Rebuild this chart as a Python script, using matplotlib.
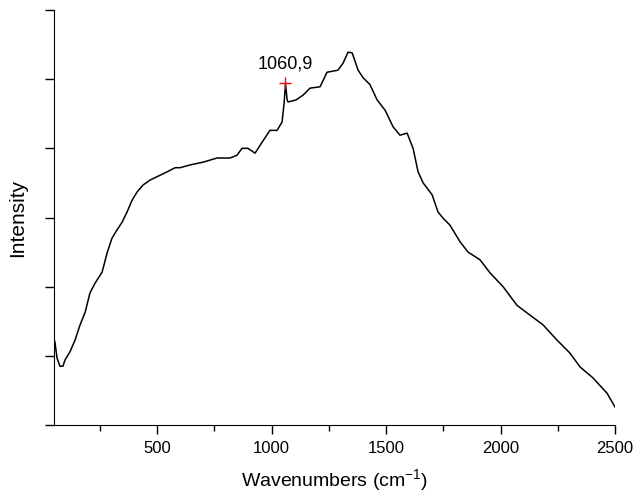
import matplotlib.pyplot as plt

plt.rcParams['font.family'] = ['Liberation Sans', 'DejaVu Sans']

# spectrum (wavenumber, intensity in arbitrary units)
wavenumber = [50, 54, 63, 76, 89, 98, 120, 142, 164, 186, 207, 229, 260, 282,
              303, 325, 347, 369, 391, 413, 439, 469, 500, 544, 579, 601, 644,
              701, 762, 819, 849, 871, 897, 928, 959, 993, 1024, 1046, 1055,
              1061, 1068, 1072, 1107, 1138, 1168, 1212, 1242, 1290, 1312, 1334,
              1352, 1378, 1400, 1430, 1461, 1496, 1531, 1561, 1592, 1618, 1640,
              1662, 1701, 1727, 1749, 1779, 1823, 1858, 1910, 1954, 2011, 2072,
              2128, 2185, 2246, 2303, 2347, 2404, 2465, 2500]
intensity = [1.23, 1.20, 0.97, 0.85, 0.85, 0.94, 1.06, 1.23, 1.45, 1.63, 1.91,
             2.05, 2.21, 2.49, 2.70, 2.82, 2.93, 3.08, 3.25, 3.37, 3.47, 3.54,
             3.59, 3.66, 3.72, 3.72, 3.76, 3.80, 3.86, 3.86, 3.90, 4.00, 4.00,
             3.93, 4.09, 4.26, 4.26, 4.38, 4.66, 4.94, 4.70, 4.67, 4.70, 4.77,
             4.87, 4.89, 5.10, 5.13, 5.23, 5.39, 5.38, 5.13, 5.02, 4.92, 4.70,
             4.55, 4.31, 4.19, 4.22, 4.00, 3.66, 3.50, 3.33, 3.08, 2.99, 2.89,
             2.65, 2.50, 2.39, 2.20, 2.00, 1.73, 1.59, 1.45, 1.23, 1.04, 0.84,
             0.68, 0.46, 0.26]

peak_x = 1060.9
peak_y = 4.94
peak_label = "1060,9"

fig = plt.figure(figsize=(6.37, 5.0), dpi=100)
ax = fig.add_axes([0.0848, 0.15, 0.8807, 0.83])

ax.plot(wavenumber, intensity, color='black', lw=1.1)
ax.plot([peak_x], [peak_y], marker='+', color='red', ms=9, mew=1.0, ls='none')
ax.annotate(peak_label, (peak_x, peak_y), xytext=(0, 8), textcoords='offset points',
            ha='center', va='bottom', fontsize=13)

ax.set_xlim(50, 2500)
ax.set_ylim(0, 6)
ax.set_xticks([500, 1000, 1500, 2000, 2500])
ax.set_xticks([250, 750, 1250, 1750, 2250], minor=True)
ax.set_yticks([0, 1, 2, 3, 4, 5, 6])
ax.set_yticklabels([])

ax.spines['top'].set_visible(False)
ax.spines['right'].set_visible(False)
ax.tick_params(axis='both', which='major', direction='out', length=6.5, width=1, labelsize=12, pad=5)
ax.tick_params(axis='x', which='minor', direction='out', length=4, width=1)

ax.set_xlabel("Wavenumbers (cm$^{\\mathregular{-1}}$)", fontsize=14, labelpad=8)
ax.set_ylabel("Intensity", fontsize=15, labelpad=8)

fig.savefig("out.png", dpi=100)
